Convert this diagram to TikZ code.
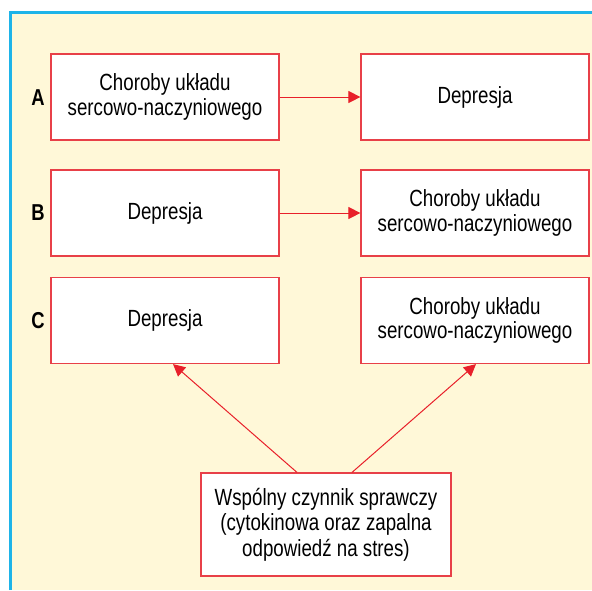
\documentclass[tikz,border=0pt]{standalone}
\usepackage{fontspec}
\setmainfont{Liberation Sans}[FakeStretch=0.8]
\usepackage{tikz}
\usetikzlibrary{arrows.meta}
\usepackage{xcolor}
\definecolor{ColPanel}{RGB}{255,248,216}
\definecolor{ColEdge}{RGB}{30,180,232}
\definecolor{ColBox}{RGB}{232,64,72}
\definecolor{ColArrow}{RGB}{232,32,42}
\tikzstyle{BoxNode}=[rectangle,draw=ColBox,fill=white,line width=1.2pt,minimum width=228pt,
minimum height=86pt,align=center,font=\fontsize{23.4}{24.5}\selectfont]
\tikzstyle{RowLabel}=[font=\fontsize{23}{24}\selectfont\bfseries]
\tikzstyle{ArrowLink}=[ColArrow,line width=1pt,-{Triangle[length=12pt,width=12pt]}]
\begin{document}
\begin{tikzpicture}[x=1pt,y=-1pt]
        \useasboundingbox(0,0)rectangle(592,590);
        \fill[ColPanel](10,12)rectangle(592,590);
        \draw[ColEdge,line width=3pt](10.5,590)--(10.5,12.5)--(592,12.5);
        % rows
        \node[RowLabel](la)at(38,98){A};
        \node[RowLabel](lb)at(38,213){B};
        \node[RowLabel](lc)at(38,321){C};
        \node[BoxNode](al)at(165,97){Choroby układu\\sercowo-naczyniowego};
        \node[BoxNode](ar)at(475,97){Depresja};
        \node[BoxNode](bl)at(165,213){Depresja};
        \node[BoxNode](br)at(475,213){Choroby układu\\sercowo-naczyniowego};
        \node[BoxNode](cl)at(165,320.5){Depresja};
        \node[BoxNode](cr)at(475,320.5){Choroby układu\\sercowo-naczyniowego};
        \node[BoxNode,minimum width=250pt,minimum height=103pt,font=\fontsize{23.4}{25.5}\selectfont](wc)at(326,524.5)
            {Wspólny czynnik sprawczy\\(cytokinowa oraz zapalna\\odpowiedź na stres)};
        % links
        \draw[ArrowLink](al)--(ar);
        \draw[ArrowLink](bl)--(br);
        \draw[ArrowLink]([xshift=-29pt]wc.north)--([xshift=8pt]cl.south);
        \draw[ArrowLink]([xshift=26pt]wc.north)--([xshift=1pt]cr.south);
    \end{tikzpicture}
\end{document}
